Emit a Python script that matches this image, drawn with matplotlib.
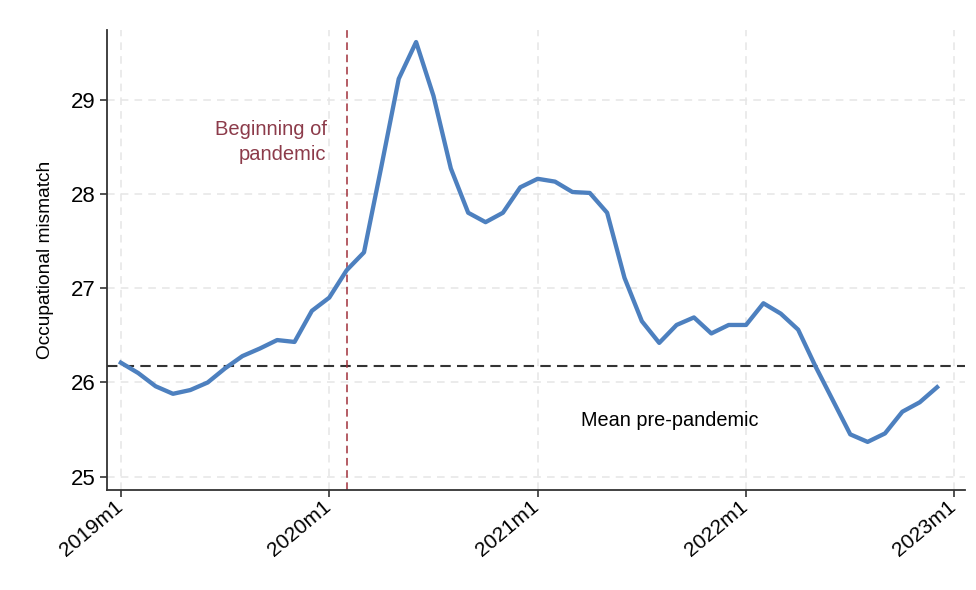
import matplotlib.pyplot as plt
import matplotlib.transforms as mtransforms

plt.rcParams['font.family'] = ['Liberation Sans', 'DejaVu Sans']

# Monthly index, 2019m1 .. 2022m12
mismatch = [26.21, 26.10, 25.96, 25.88, 25.92, 26.00, 26.15, 26.28, 26.36, 26.45,
            26.43, 26.76, 26.90, 27.19, 27.38, 28.29, 29.22, 29.61, 29.04, 28.27,
            27.80, 27.70, 27.80, 28.07, 28.16, 28.13, 28.02, 28.01, 27.80, 27.11,
            26.65, 26.42, 26.61, 26.69, 26.52, 26.61, 26.61, 26.84, 26.73, 26.56,
            26.17, 25.81, 25.45, 25.37, 25.46, 25.69, 25.79, 25.95]
months = list(range(len(mismatch)))
tick_pos = [0, 12, 24, 36, 48]
tick_labels = ['2019m1', '2020m1', '2021m1', '2022m1', '2023m1']
pre_mean = 26.18
pandemic_start = 13  # 2020m2

fig = plt.figure(figsize=(9.76, 5.9), dpi=100)
ax = fig.add_axes([0.1096, 0.1695, 0.879, 0.78])

ax.grid(True, color='#e6e6e6', linestyle=(0, (5, 4)), linewidth=1.1)
ax.set_axisbelow(True)

ax.axhline(pre_mean, color='#333333', linestyle=(0, (5, 3)), linewidth=1.5, zorder=2)
ax.axvline(pandemic_start, color='#a0303a', linestyle=(0, (5, 3)), linewidth=1.1, zorder=2)
ax.plot(months, mismatch, color='#4d80bf', linewidth=3.1, zorder=3)

ax.text(pandemic_start - 1.15, 28.55, 'Beginning of\npandemic', color='#8c3b4a',
        fontsize=14.5, ha='right', va='center', linespacing=1.35)
ax.text(26.5, 25.6, 'Mean pre-pandemic', color='black', fontsize=14.3,
        ha='left', va='center')

ax.set_xlim(-0.8, 48.6)
ax.set_ylim(24.86, 29.74)
ax.set_yticks([25, 26, 27, 28, 29])
ax.set_xticks(tick_pos)
ax.set_xticklabels(tick_labels, rotation=40, ha='right', rotation_mode='anchor')
ax.tick_params(axis='y', labelsize=16, pad=3)
ax.tick_params(axis='x', labelsize=15, pad=0)
ax.tick_params(axis='both', direction='out', length=5,
               width=1.2, color='#333333')
ax.set_ylabel('Occupational mismatch', fontsize=13.8, labelpad=12)

# nudge the slanted year labels so they end right under their ticks
shift = mtransforms.ScaledTranslation(-7 / 100, 0, fig.dpi_scale_trans)
for lab in ax.get_xticklabels():
    lab.set_transform(lab.get_transform() + shift)

for side in ['top', 'right']:
    ax.spines[side].set_visible(False)
for side in ['left', 'bottom']:
    ax.spines[side].set_color('#333333')
    ax.spines[side].set_linewidth(1.3)

fig.savefig('out.png', dpi=100)
